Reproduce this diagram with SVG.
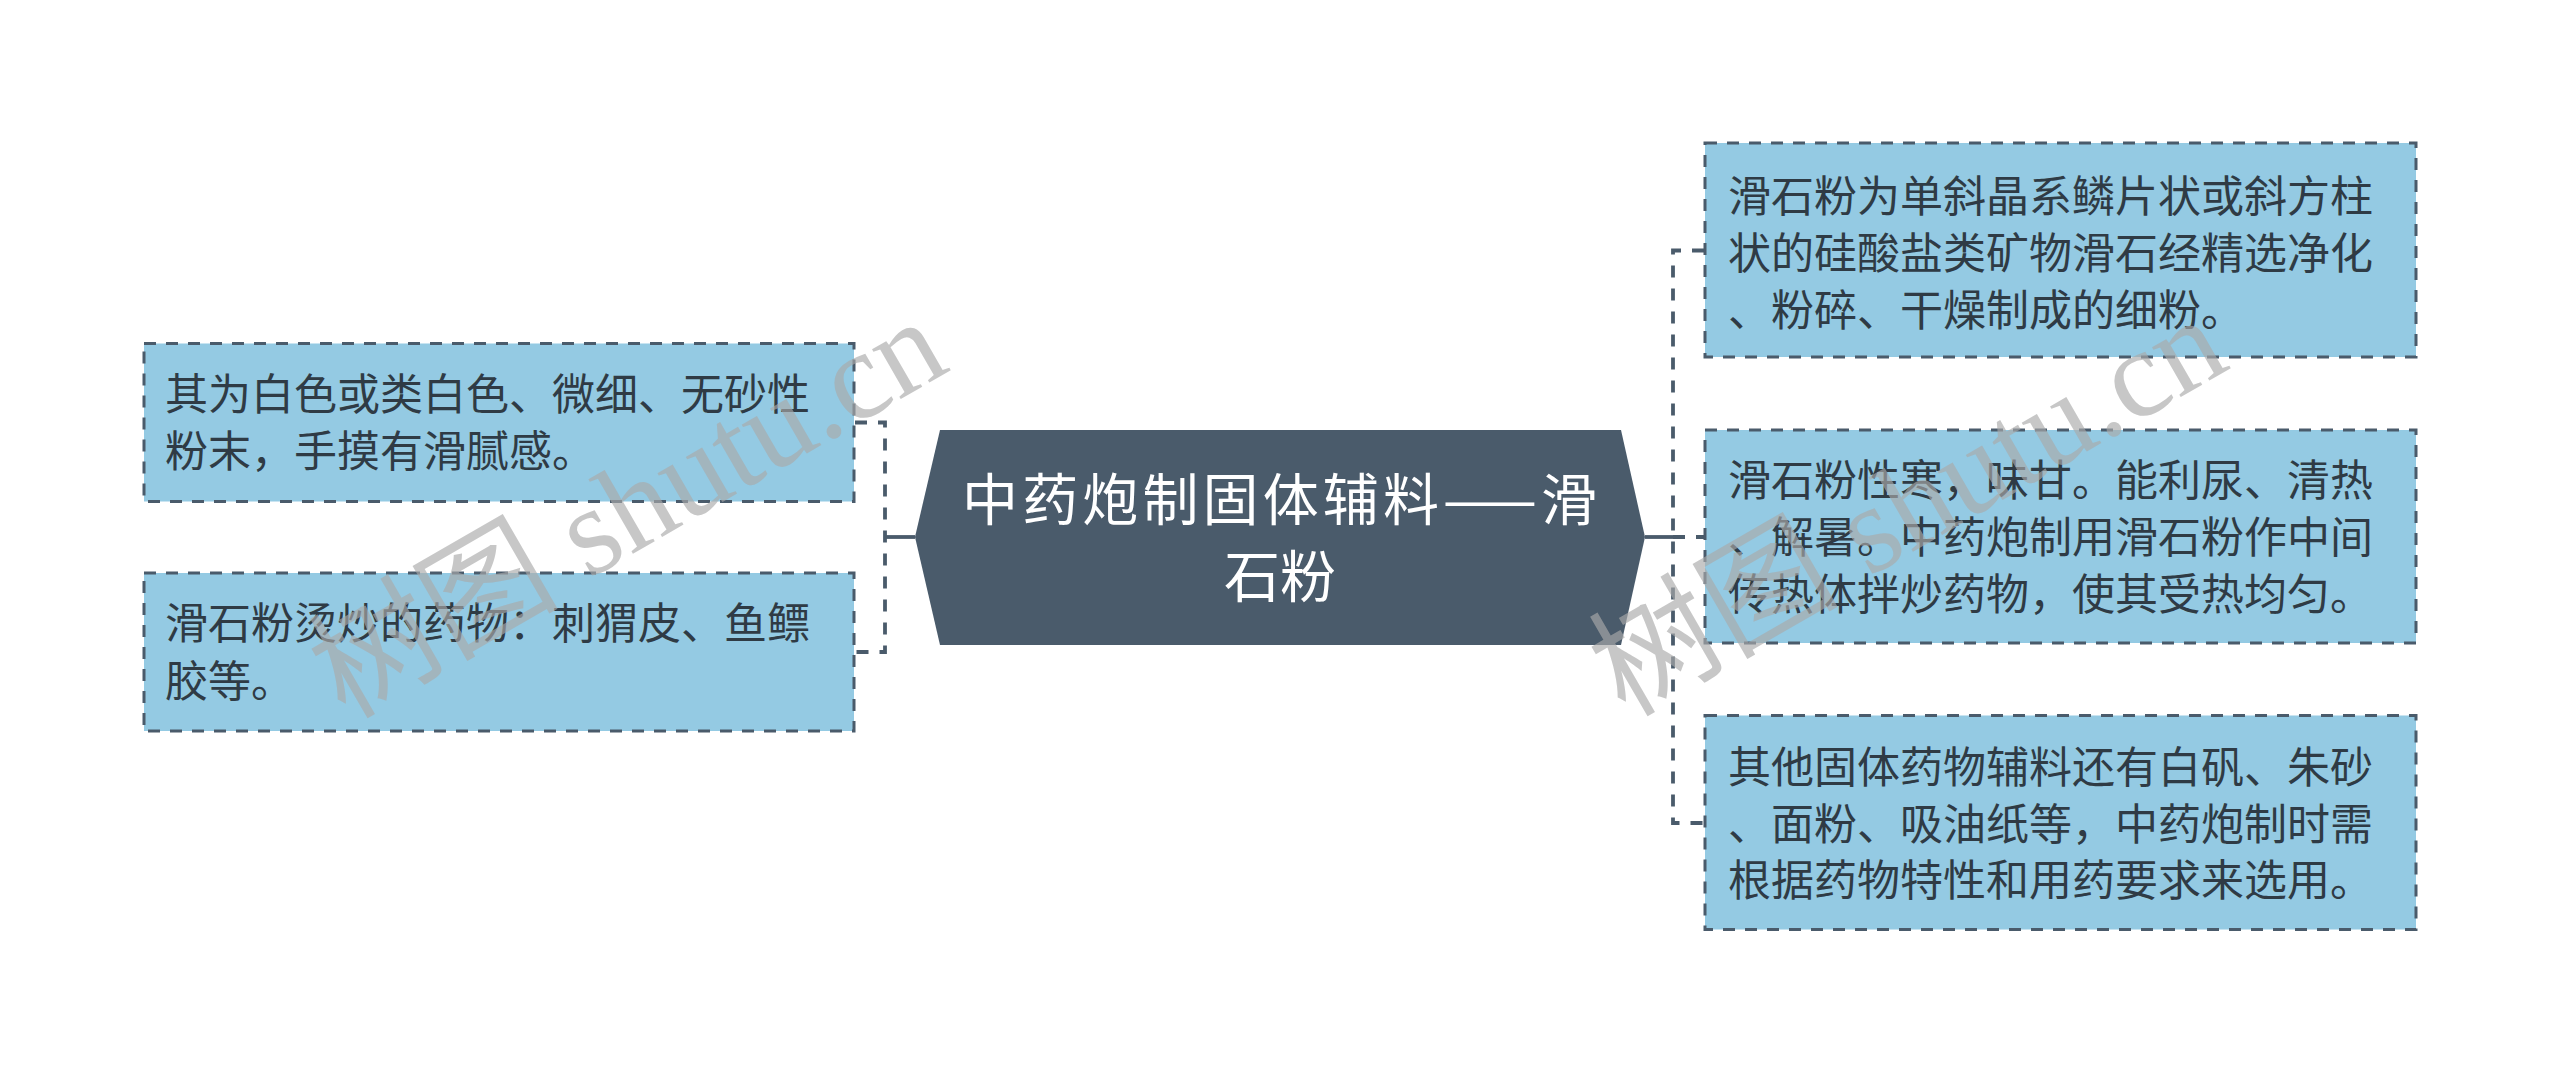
<svg xmlns="http://www.w3.org/2000/svg" width="2560" height="1075" viewBox="0 0 2560 1075">
<style>
.box{fill:#94cae3;stroke:#4a5b6b;stroke-width:3;stroke-dasharray:12 10}
.bt{font-family:"Noto Sans CJK SC","Noto Sans",sans-serif;font-size:43px;fill:#2f3b45}
.ct{font-family:"Noto Sans CJK SC","Noto Sans",sans-serif;font-size:56px;fill:#ffffff}
.dash{fill:none;stroke:#4a5b6b;stroke-width:3.8;stroke-dasharray:12 11}
.solid{fill:none;stroke:#4a5b6b;stroke-width:3.8}
.wm{font-family:"Liberation Serif","Noto Sans CJK SC",serif;font-size:125px;fill:#aaaaaa;opacity:0.65}
</style>
<rect width="2560" height="1075" fill="#ffffff"/>
<g id="connectors">
<path class="solid" d="M915 537 H885"/>
<path class="dash" d="M855 422.5 H885 V652 H855"/>
<path class="solid" d="M1645 537 H1673"/>
<path class="dash" d="M1704 250.5 H1673 V823 H1704"/>
<path class="dash" d="M1673 537 H1704"/>
</g>
<g id="center">
<polygon points="940,430 1621,430 1645,537 1621,645 940,645 915,537" fill="#4a5b6b"/>
<text class="ct" x="962" y="520" textLength="635" lengthAdjust="spacing">中药炮制固体辅料——滑</text>
<text class="ct" x="1280" y="597" text-anchor="middle">石粉</text>
</g>
<g id="left1">
<rect class="box" x="144" y="343.5" width="710" height="158"/>
<text class="bt" x="165" y="410">其为白色或类白色、微细、无砂性</text>
<text class="bt" x="165" y="467">粉末，手摸有滑腻感。</text>
</g>
<g id="left2">
<rect class="box" x="144" y="573" width="710" height="158"/>
<text class="bt" x="165" y="639">滑石粉烫炒的药物：刺猬皮、鱼鳔</text>
<text class="bt" x="165" y="697">胶等。</text>
</g>
<g id="right1">
<rect class="box" x="1705" y="143" width="711" height="214"/>
<text class="bt" x="1728" y="212">滑石粉为单斜晶系鳞片状或斜方柱</text>
<text class="bt" x="1728" y="269">状的硅酸盐类矿物滑石经精选净化</text>
<text class="bt" x="1728" y="325.5">、粉碎、干燥制成的细粉。</text>
</g>
<g id="right2">
<rect class="box" x="1705" y="430" width="711" height="213"/>
<text class="bt" x="1728" y="496">滑石粉性寒，味甘。能利尿、清热</text>
<text class="bt" x="1728" y="553">、解暑。中药炮制用滑石粉作中间</text>
<text class="bt" x="1728" y="609.5">传热体拌炒药物，使其受热均匀。</text>
</g>
<g id="right3">
<rect class="box" x="1705" y="715.5" width="711" height="214"/>
<text class="bt" x="1728" y="782.5">其他固体药物辅料还有白矾、朱砂</text>
<text class="bt" x="1728" y="839.5">、面粉、吸油纸等，中药炮制时需</text>
<text class="bt" x="1728" y="896">根据药物特性和用药要求来选用。</text>
</g>
<g id="watermarks">
<text class="wm" transform="translate(345 720) rotate(-30)">树图 shutu.cn</text>
<text class="wm" transform="translate(1625 718) rotate(-30)">树图 shutu.cn</text>
</g>
</svg>
